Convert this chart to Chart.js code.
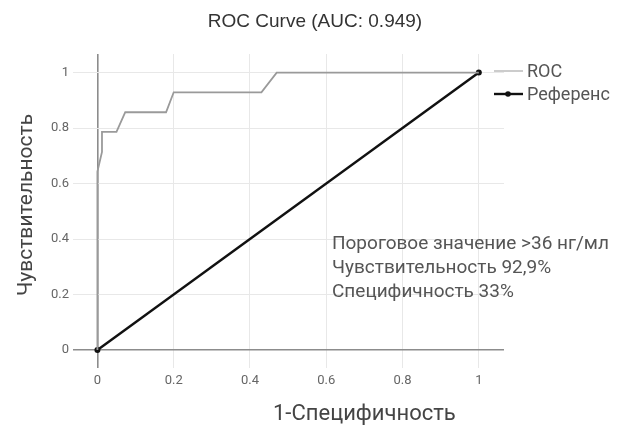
<!DOCTYPE html>
<html>
<head>
<meta charset="utf-8">
<script src="https://cdn.jsdelivr.net/npm/chart.js@4.4.1/dist/chart.umd.min.js"></script>
<style>
    html, body { margin: 0; padding: 0; background: #fff; }
    #wrap { width: 627px; height: 425px; }
</style>
</head>
<body>
<div id="wrap"><canvas id="rocChart" width="627" height="425"></canvas></div>
<script>
// data
const rocX = [0, 0, 0.012, 0.012, 0.05, 0.073, 0.18, 0.2, 0.43, 0.47, 1];
const rocY = [0, 0.643, 0.714, 0.786, 0.786, 0.857, 0.857, 0.929, 0.929, 1, 1];
const refX = [0, 1];
const refY = [0, 1];
const xTicks = [0, 0.2, 0.4, 0.6, 0.8, 1];
const yTicks = [0, 0.2, 0.4, 0.6, 0.8, 1];
const seriesNames = ['ROC', 'Референс'];
const chartTitle = 'ROC Curve (AUC: 0.949)';
const xTitle = '1-Специфичность';
const yTitle = 'Чувствительность';
const noteLines = ['Пороговое значение >36 нг/мл', 'Чувствительность 92,9%', 'Специфичность 33%'];

const toPoints = (xs, ys) => xs.map((x, i) => ({ x: x, y: ys[i] }));

// title, axis titles, note text and legend drawn by hand
const extras = {
    id: 'extras',
    afterDraw(chart) {
        const ctx = chart.ctx;
        const xs = chart.scales.x;
        const ys = chart.scales.y;
        ctx.save();

        // chart title
        ctx.fillStyle = '#333';
        ctx.font = '19px "Liberation Sans"';
        ctx.textAlign = 'center';
        ctx.textBaseline = 'alphabetic';
        ctx.fillText(chartTitle, 315, 27);

        // x title
        ctx.fillStyle = '#444';
        ctx.font = '22px Roboto';
        ctx.textAlign = 'left';
        ctx.fillText(xTitle, 273, 420);

        // y title
        ctx.font = '21px Roboto';
        ctx.translate(32, 205);
        ctx.rotate(-Math.PI / 2);
        ctx.textAlign = 'center';
        ctx.fillText(yTitle, 0, 0);
        ctx.setTransform(1, 0, 0, 1, 0, 0);

        // note
        ctx.fillStyle = '#555';
        ctx.font = '19px Roboto';
        ctx.textAlign = 'left';
        let nx = xs.getPixelForValue(0.615);
        let ny = ys.getPixelForValue(0.365);
        noteLines.forEach((t, i) => ctx.fillText(t, nx, ny + i * 24));

        // legend
        ctx.font = '18px Roboto';
        ctx.textBaseline = 'middle';
        chart.data.datasets.forEach((ds, i) => {
            let ly = 71 + i * 23;
            ctx.strokeStyle = i == 0 ? '#aaa' : ds.borderColor;
            ctx.lineWidth = i == 0 ? 1.2 : ds.borderWidth;
            ctx.beginPath();
            ctx.moveTo(494, ly);
            ctx.lineTo(523, ly);
            ctx.stroke();
            if (ds.pointRadius > 0) {
                ctx.fillStyle = ds.pointBackgroundColor;
                ctx.beginPath();
                ctx.arc(508, ly, 2.8, 0, Math.PI * 2);
                ctx.fill();
            }
            ctx.fillStyle = '#555';
            ctx.fillText(ds.label, 527, ly + 1);
        });
        ctx.restore();
    }
};

const gridColor = (c) => c.tick && c.tick.value === 0 ? '#8c8c8c' : '#e8e8e8';
const gridWidth = (c) => c.tick && c.tick.value === 0 ? 1.6 : 1;

const ctx = document.getElementById('rocChart').getContext('2d');
const chart = new Chart(ctx, {
    type: 'line',
    data: {
        datasets: [{
            label: seriesNames[0],
            data: toPoints(rocX, rocY),
            borderColor: '#9a9a9a',
            borderWidth: 1.8,
            pointRadius: 0,
            tension: 0
        }, {
            label: seriesNames[1],
            data: toPoints(refX, refY),
            borderColor: '#111',
            borderWidth: 2.4,
            pointRadius: 3,
            pointBackgroundColor: '#111',
            pointBorderWidth: 0,
            tension: 0
        }]
    },
    plugins: [extras],
    options: {
        responsive: false,
        animation: false,
        layout: { padding: { left: 0, right: 123, top: 54, bottom: 0 } },
        plugins: {
            legend: { display: false },
            tooltip: { enabled: false },
            title: { display: false }
        },
        scales: {
            x: {
                type: 'linear',
                min: -0.064,
                max: 1.066,
                afterBuildTicks: (s) => { s.ticks = xTicks.map(v => ({ value: v })); },
                afterFit: (s) => { s.height = 57; },
                border: { display: false },
                grid: { color: gridColor, lineWidth: gridWidth, drawTicks: false },
                ticks: {
                    padding: 5,
                    color: '#666',
                    font: { family: 'Roboto', size: 13 },
                    callback: (v) => String(v)
                }
            },
            y: {
                type: 'linear',
                min: -0.065,
                max: 1.067,
                afterBuildTicks: (s) => { s.ticks = yTicks.map(v => ({ value: v })); },
                afterFit: (s) => { s.width = 73; },
                border: { display: false },
                grid: { color: gridColor, lineWidth: gridWidth, drawTicks: false },
                ticks: {
                    padding: 4,
                    color: '#666',
                    font: { family: 'Roboto', size: 13 },
                    callback: (v) => String(v)
                }
            }
        }
    }
});
</script>
</body>
</html>
